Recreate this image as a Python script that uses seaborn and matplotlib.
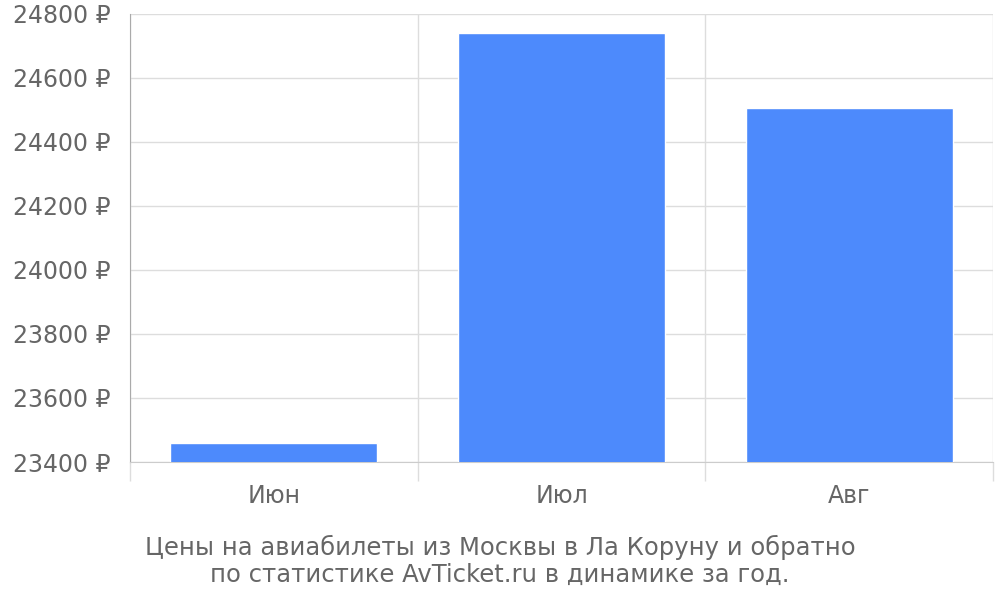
import pandas as pd
import matplotlib.pyplot as plt
import seaborn as sns
import numpy as np

# Данные
months = ['Июн', 'Июл', 'Авг']
prices = [23460, 24740, 24505]
y_ticks = np.arange(23400, 24801, 200)

sns.set_style('white')
plt.rcParams['font.family'] = ['DejaVu Sans']

dt = pd.DataFrame({'Месяц': months, 'Цена': prices})

fig = plt.figure(figsize=(10, 6), dpi=100)
ax = fig.add_axes([0.13, 0.23, 0.863, 0.7467])

sns.barplot(data=dt, x='Месяц', y='Цена', color='#4d8afc', saturation=1,
            width=0.72, ax=ax, zorder=3)

# Оси и сетка
ax.set_ylim(23400, 24800)
ax.set_xlim(-0.5, len(months) - 0.5)
ax.set_yticks(y_ticks)
ax.set_yticklabels([f'{v} ₽' for v in y_ticks])
ax.set_xticks(np.arange(-0.5, len(months)), minor=True)
ax.grid(axis='y', color='#dddddd', linewidth=1, zorder=0)
ax.grid(axis='x', which='minor', color='#dddddd', linewidth=1, zorder=0)
ax.tick_params(axis='x', which='major', bottom=False, length=0, pad=16,
               labelsize=17, labelcolor='#666666')
ax.tick_params(axis='x', which='minor', bottom=True, length=14, color='#dddddd', width=1)
ax.xaxis.get_minor_ticks()[0].tick1line.set_color('#aaaaaa')
ax.tick_params(axis='y', left=False, length=0, pad=14, labelsize=17, labelcolor='#666666')

for s in ['top', 'right']:
    ax.spines[s].set_visible(False)
ax.spines['left'].set_color('#aaaaaa')
ax.spines['bottom'].set_color('#cccccc')
ax.set_xlabel('')
ax.set_ylabel('')

fig.text(0.5, 0.065, 'Цены на авиабилеты из Москвы в Ла Коруну и обратно\nпо статистике AvTicket.ru в динамике за год.',
         ha='center', va='center', fontsize=17.5, color='#666666', linespacing=1.15)

plt.savefig('out.png', format='png', dpi=100)
plt.close()
